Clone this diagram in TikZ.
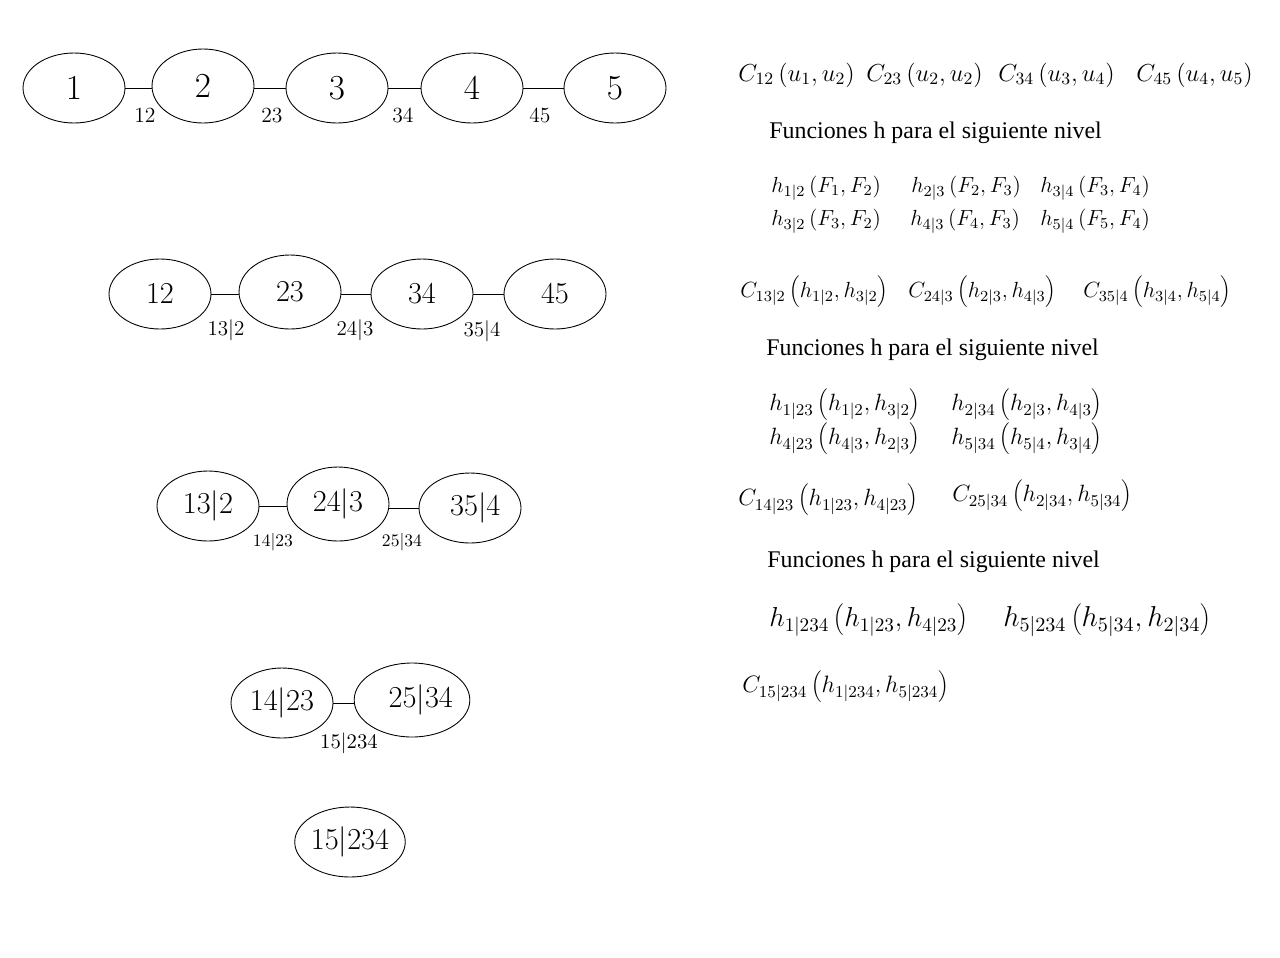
\RequirePackage{fix-cm}
\documentclass[tikz,border=0pt]{standalone}
\usepackage{fontspec}
\newfontfamily\funfont{Liberation Serif}
\usetikzlibrary{shapes.geometric}
\newcommand{\fsz}[1]{\fontsize{#1}{#1}\selectfont}
\tikzset{
  ell/.style={ellipse, draw, line width=0.5pt, inner sep=0pt, minimum width=2.04cm, minimum height=1.4cm, font=\fsz{17.3}},
  ellt/.style={ell, minimum height=1.48cm},
  big/.style={font=\fsz{20}},
  conn/.style={line width=0.5pt},
  elab/.style={inner sep=0pt, font=\fsz{12.3}},
  elabs/.style={inner sep=0pt, font=\fsz{10}},
  mt/.style={anchor=west, inner sep=0pt},
  fun/.style={anchor=west, inner sep=0pt, font=\funfont\fsz{13.6}}
}
\begin{document}
\begin{tikzpicture}[x=0.02cm, y=-0.02cm]
\useasboundingbox (0,0) rectangle (1280,957);
% row 1
\node[ell, big]  (n1) at (74,88)  {$1$};
\node[ellt, big] (n2) at (203,86) {$2$};
\node[ell, big]  (n3) at (337,88) {$3$};
\node[ell, big]  (n4) at (472,88) {$4$};
\node[ell, big]  (n5) at (615,88) {$5$};
\draw[conn] (n1.east) -- (n1.east -| n2.west);
\draw[conn] (n3.west -| n2.east) -- (n3.west);
\draw[conn] (n3.east) -- (n4.west);
\draw[conn] (n4.east) -- (n5.west);
\node[elab] (l12) at (145,116) {$12$};
\node[elab] (l23) at (272,116) {$23$};
\node[elab] (l34) at (403,116) {$34$};
\node[elab] (l45) at (540,116) {$45$};
% row 2
\node[ell]  (m12) at (160,294) {$12$};
\node[ellt] (m23) at (290,292) {$23$};
\node[ell]  (m34) at (422,294) {$34$};
\node[ell]  (m45) at (555,294) {$45$};
\draw[conn] (m12.east) -- (m12.east -| m23.west);
\draw[conn] (m34.west -| m23.east) -- (m34.west);
\draw[conn] (m34.east) -- (m45.west);
\node[elab, font=\fsz{12}] (l132) at (226,330) {$13|2$};
\node[elab, font=\fsz{12}] (l243) at (355,330) {$24|3$};
\node[elab, font=\fsz{12}] (l354) at (482,331) {$35|4$};
% row 3
\node[ell]  (k1) at (208,506) {$13|2$};
\node[ellt] (k2) at (338,504) {\raisebox{2pt}{$24|3$}};
\node[ell]  (k3) at (470,508) {\hspace*{6pt}$35|4$};
\draw[conn] (k1.east) -- (k1.east -| k2.west);
\draw[conn] (k3.west -| k2.east) -- (k3.west);
\node[elabs] (l1423) at (273,542) {$14|23$};
\node[elabs] (l2534) at (402,542) {$25|34$};
% row 4
\node[ell]  (p1) at (282,703) {$14|23$};
\node[ellt] (p2) at (412,700) {\hspace*{10pt}$25|34$};
\draw[conn] (p1.east) -- (p1.east -| p2.west);
\node[elab, font=\fsz{11.8}] (l15234) at (349,743) {$15|234$};
% row 5
\node[ell] (q1) at (350,842) {$15|234$};
% right side
\begin{scope}[every node/.append style={font=\fsz{14.0}}]
\node[mt] (c12) at (738,75)  {$C_{12}\left(u_1,u_2\right)$};
\node[mt] (c23) at (866,75)  {$C_{23}\left(u_2,u_2\right)$};
\node[mt] (c34) at (998,75)  {$C_{34}\left(u_3,u_4\right)$};
\node[mt] (c45) at (1136,75) {$C_{45}\left(u_4,u_5\right)$};
\end{scope}
\node[fun] (f1) at (769,133) {Funciones h para el siguiente nivel};
\begin{scope}[every node/.append style={font=\fsz{12.45}}]
\node[mt] (h12) at (771,188)  {$h_{1|2}\left(F_1,F_2\right)$};
\node[mt] (h23) at (911,188)  {$h_{2|3}\left(F_2,F_3\right)$};
\node[mt] (h34) at (1040,188) {$h_{3|4}\left(F_3,F_4\right)$};
\node[mt] (h32) at (771,221)  {$h_{3|2}\left(F_3,F_2\right)$};
\node[mt] (h43) at (910,221)  {$h_{4|3}\left(F_4,F_3\right)$};
\node[mt] (h54) at (1040,221) {$h_{5|4}\left(F_5,F_4\right)$};
\end{scope}
\begin{scope}[every node/.append style={font=\fsz{12.5}}]
\node[mt] (c132) at (740,292)  {$C_{13|2}\left(h_{1|2},h_{3|2}\right)$};
\node[mt] (c243) at (908,292)  {$C_{24|3}\left(h_{2|3},h_{4|3}\right)$};
\node[mt] (c354) at (1083,292) {$C_{35|4}\left(h_{3|4},h_{5|4}\right)$};
\end{scope}
\node[fun] (f2) at (766,350) {Funciones h para el siguiente nivel};
\begin{scope}[every node/.append style={font=\fsz{13.4}}]
\node[mt] (h123) at (769,405) {$h_{1|23}\left(h_{1|2},h_{3|2}\right)$};
\node[mt] (h234) at (951,405) {$h_{2|34}\left(h_{2|3},h_{4|3}\right)$};
\node[mt] (h423) at (769,439) {$h_{4|23}\left(h_{4|3},h_{2|3}\right)$};
\node[mt] (h534) at (951,439) {$h_{5|34}\left(h_{5|4},h_{3|4}\right)$};
\node[mt] (c1423) at (738,500) {$C_{14|23}\left(h_{1|23},h_{4|23}\right)$};
\node[mt] (c2534) at (952,496) {$C_{25|34}\left(h_{2|34},h_{5|34}\right)$};
\end{scope}
\node[fun] (f3) at (767,562) {Funciones h para el siguiente nivel};
\node[mt, font=\fsz{15.6}] (h1234) at (769,620)  {$h_{1|234}\left(h_{1|23},h_{4|23}\right)$};
\node[mt, font=\fsz{16.4}] (h5234) at (1003,620) {$h_{5|234}\left(h_{5|34},h_{2|34}\right)$};
\node[mt, font=\fsz{13.5}] (c15234) at (742,687) {$C_{15|234}\left(h_{1|234},h_{5|234}\right)$};
\end{tikzpicture}
\end{document}
